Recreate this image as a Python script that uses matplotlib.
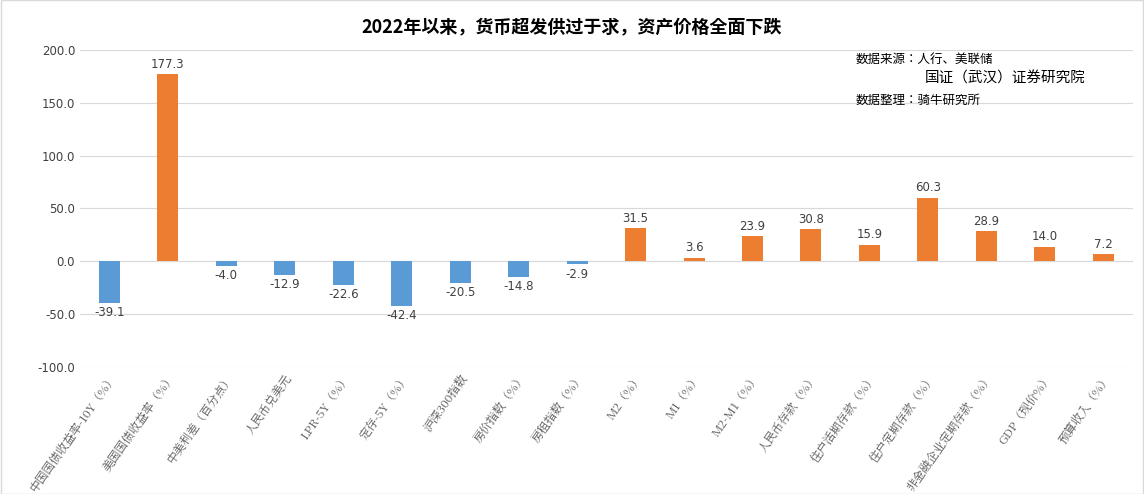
import matplotlib
matplotlib.use("Agg")
import matplotlib.pyplot as plt
from matplotlib import font_manager
import numpy as np

# register the CJK fonts on the system, keep a sans and a serif one
sans_cjk, serif_cjk = None, None
for path in font_manager.findSystemFonts():
    if "CJK" in path or "cjk" in path:
        try:
            font_manager.fontManager.addfont(path)
            name = font_manager.FontProperties(fname=path).get_name()
        except Exception:
            continue
        if "Serif" in name:
            if serif_cjk is None or "SC" in name:
                serif_cjk = name
        elif "Sans" in name:
            if sans_cjk is None or "SC" in name:
                sans_cjk = name
sans_cjk = sans_cjk or serif_cjk or "DejaVu Sans"
serif_cjk = serif_cjk or sans_cjk
plt.rcParams["font.family"] = [sans_cjk, "DejaVu Sans"]

# ── Data ──────────────────────────────────────────────────────────────────────
categories = [
    "中国国债收益率-10Y（%）", "美国国债收益率（%）", "中美利差（百分点）", "人民币兑美元",
    "LPR-5Y（%）", "定存-5Y（%）", "沪深300指数", "房价指数（%）", "房租指数（%）",
    "M2（%）", "M1（%）", "M2-M1（%）", "人民币存款（%）", "住户活期存款（%）",
    "住户定期存款（%）", "非金融企业定期存款（%）", "GDP（现价%）", "预算收入（%）",
]
values = [-39.1, 177.3, -4.0, -12.9, -22.6, -42.4, -20.5, -14.8, -2.9,
          31.5, 3.6, 23.9, 30.8, 15.9, 60.3, 28.9, 14.0, 7.2]
yticks = [-100, -50, 0, 50, 100, 150, 200]

BLUE = "#5B9BD5"
ORANGE = "#ED7D31"

fig = plt.figure(figsize=(11.44, 4.94), dpi=100)
ax = fig.add_axes([0.07, 0.257, 0.92, 0.642])

x = np.arange(len(categories))
colors = [ORANGE if v > 0 else BLUE for v in values]
ax.bar(x, values, width=0.36, color=colors, zorder=3)

for xi, v in zip(x, values):
    off = 3 if v >= 0 else -3
    ax.text(xi, v + off, f"{v:.1f}", ha="center", va="bottom" if v >= 0 else "top",
            fontsize=8.5, color="#404040", family="DejaVu Sans")

ax.set_ylim(-100, 200)
ax.set_xlim(-0.5, len(categories) - 0.5)
ax.set_yticks(yticks)
ax.set_yticklabels([f"{t:.1f}" for t in yticks], fontsize=8.5, color="#404040",
                   family="DejaVu Sans")
ax.yaxis.grid(True, color="#D9D9D9", linewidth=0.8, zorder=0)
ax.tick_params(length=0)
for s in ax.spines.values():
    s.set_visible(False)
ax.axhline(0, color="#D9D9D9", linewidth=0.8, zorder=1)

ax.set_xticks(x)
ax.set_xticklabels(categories, rotation=55, ha="right", rotation_mode="anchor",
                   fontsize=8.5, color="#595959", family=serif_cjk)

fig.text(0.5, 0.945, "2022年以来，货币超发供过于求，资产价格全面下跌",
         ha="center", va="center", fontsize=13, fontweight="bold", color="#000000")
fig.text(0.748, 0.872, "数据来源：人行、美联储", fontsize=9)
fig.text(0.808, 0.833, "国证（武汉）证券研究院", fontsize=10.5)
fig.text(0.748, 0.790, "数据整理：骑牛研究所", fontsize=9)

border = plt.Rectangle((0.001, 0.001), 0.998, 0.998, transform=fig.transFigure,
                       fill=False, edgecolor="#D9D9D9", linewidth=1)
fig.patches.append(border)

fig.savefig("out.png", dpi=100)
